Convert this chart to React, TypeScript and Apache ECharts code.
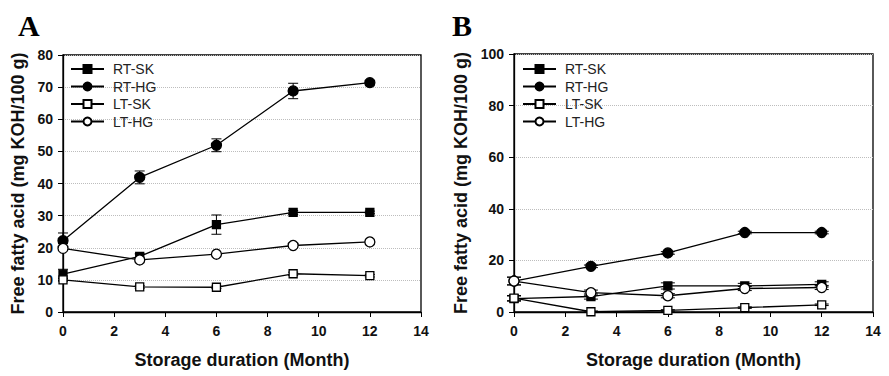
import React, { useEffect, useRef } from "react";
import * as echarts from "echarts";

const months = [0, 3, 6, 9, 12];
const seriesNames = ["RT-SK", "RT-HG", "LT-SK", "LT-HG"];

// Panel A
const aRtSk = [11.8, 17.3, 27.2, 31.0, 31.0];
const aRtSkErr = [1.5, 0.8, 3.0, 0.6, 0.4];
const aRtHg = [22.2, 41.9, 51.9, 68.8, 71.4];
const aRtHgErr = [2.4, 2.0, 2.0, 2.4, 0.5];
const aLtSk = [10.0, 7.8, 7.7, 11.9, 11.3];
const aLtSkErr = [0.4, 0.4, 0.4, 0.5, 0.4];
const aLtHg = [19.8, 16.2, 18.0, 20.7, 21.8];
const aLtHgErr = [0.4, 0.5, 0.4, 0.5, 0.4];

// Panel B
const bRtSk = [5.2, 6.0, 10.1, 10.1, 10.7];
const bRtSkErr = [1.0, 1.0, 1.2, 1.0, 1.0];
const bRtHg = [12.0, 17.7, 22.9, 30.8, 30.8];
const bRtHgErr = [1.5, 0.5, 0.5, 0.5, 0.5];
const bLtSk = [5.4, 0.1, 0.6, 1.7, 2.8];
const bLtSkErr = [1.0, 0.3, 0.3, 0.3, 0.3];
const bLtHg = [12.0, 7.5, 6.3, 9.1, 9.5];
const bLtHgErr = [1.5, 1.0, 0.8, 0.8, 0.8];

const panelLetters = ["A", "B"];
const xTitle = "Storage duration (Month)";
const yTitle = "Free fatty acid (mg KOH/100 g)";

const FONT = "Arial, 'Liberation Sans', Helvetica, sans-serif";

const markerStyles = [
  { symbol: "rect", size: 8, fill: "#000" },
  { symbol: "circle", size: 10, fill: "#000" },
  { symbol: "rect", size: 8, fill: "#fff" },
  { symbol: "circle", size: 10, fill: "#fff" },
];

function lineSeries(idx: number, values: number[], gi: number) {
  const m = markerStyles[idx];
  return {
    type: "line",
    name: seriesNames[idx],
    xAxisIndex: gi,
    yAxisIndex: gi,
    data: months.map((x, i) => [x, values[i]]),
    symbol: m.symbol,
    symbolSize: m.size,
    z: 5 + idx,
    lineStyle: { color: "#000", width: 1.3 },
    itemStyle: { color: m.fill, borderColor: "#000", borderWidth: 1.3 },
  };
}

function errSeries(values: number[], errs: number[], gi: number, capHalf: number) {
  return {
    type: "custom",
    xAxisIndex: gi,
    yAxisIndex: gi,
    z: 3,
    silent: true,
    data: months.map((x, i) => [x, values[i] - errs[i], values[i] + errs[i]]),
    encode: { x: 0, y: [1, 2] },
    renderItem: (params: any, api: any) => {
      const lo = api.coord([api.value(0), api.value(1)]);
      const hi = api.coord([api.value(0), api.value(2)]);
      const st = { stroke: "#000", lineWidth: 1 };
      return {
        type: "group",
        children: [
          { type: "line", shape: { x1: lo[0], y1: lo[1], x2: hi[0], y2: hi[1] }, style: st },
          { type: "line", shape: { x1: lo[0] - capHalf, y1: lo[1], x2: lo[0] + capHalf, y2: lo[1] }, style: st },
          { type: "line", shape: { x1: hi[0] - capHalf, y1: hi[1], x2: hi[0] + capHalf, y2: hi[1] }, style: st },
        ],
      };
    },
  };
}

export default function App() {
  const ref = useRef<HTMLDivElement>(null);
  useEffect(() => {
    if (!ref.current) return;
    const chart = echarts.init(ref.current, undefined, { renderer: "svg" });
    const grids = [
      { left: 63, top: 55, width: 358, height: 257 },
      { left: 514, top: 54, width: 359, height: 258 },
    ];
    const yMax = [80, 100];
    const yInt = [10, 20];
    const labelStyle = { color: "#111", fontSize: 14, fontWeight: "bold", fontFamily: FONT };
    const nameStyle = { color: "#111", fontSize: 18, fontWeight: "bold", fontFamily: FONT };
    const option: any = {
      animation: false,
      backgroundColor: "#fff",
      grid: grids.map((g) => ({ ...g, show: true, borderColor: "#000", borderWidth: 1.3, backgroundColor: "transparent" })),
      xAxis: grids.map((_, gi) => ({
        type: "value",
        gridIndex: gi,
        min: 0,
        max: 14,
        interval: 2,
        axisLine: { show: true, lineStyle: { color: "#000", width: 1.3 } },
        axisTick: { show: true, length: 5, lineStyle: { color: "#000", width: 1 } },
        axisLabel: { ...labelStyle, margin: 12 },
        splitLine: { show: false },
        name: xTitle,
        nameLocation: "middle",
        nameGap: 39,
        nameTextStyle: nameStyle,
      })),
      yAxis: grids.map((_, gi) => ({
        type: "value",
        gridIndex: gi,
        min: 0,
        max: yMax[gi],
        interval: yInt[gi],
        axisLine: { show: true, lineStyle: { color: "#000", width: 1.3 } },
        axisTick: { show: true, length: 5, lineStyle: { color: "#000", width: 1 } },
        axisLabel: { ...labelStyle, margin: 10 },
        splitLine: { show: true, lineStyle: { color: "#bdbdbd", type: "dotted", width: 1 } },
        name: yTitle,
        nameLocation: "middle",
        nameRotate: 90,
        nameGap: gi === 0 ? 36 : 44,
        nameTextStyle: nameStyle,
      })),
      legend: [
        { left: 70, top: 62 },
        { left: 522, top: 62 },
      ].map((p) => ({
        ...p,
        orient: "vertical",
        padding: 0,
        itemWidth: 33,
        itemHeight: 10,
        itemGap: 3.5,
        selectedMode: false,
        data: seriesNames,
        textStyle: { color: "#222", fontSize: 14, fontFamily: FONT, padding: [0, 0, 0, 4] },
      })),
      graphic: panelLetters.map((t, i) => ({
        type: "text",
        left: i === 0 ? 18 : 452,
        top: 10,
        style: { text: t, font: "bold 30px 'Liberation Serif', 'Times New Roman', serif", fill: "#000" },
      })),
      series: [
        errSeries(aRtSk, aRtSkErr, 0, 5),
        errSeries(aRtHg, aRtHgErr, 0, 5),
        errSeries(aLtSk, aLtSkErr, 0, 5),
        errSeries(aLtHg, aLtHgErr, 0, 5),
        lineSeries(0, aRtSk, 0),
        lineSeries(1, aRtHg, 0),
        lineSeries(2, aLtSk, 0),
        lineSeries(3, aLtHg, 0),
        errSeries(bRtSk, bRtSkErr, 1, 7),
        errSeries(bRtHg, bRtHgErr, 1, 7),
        errSeries(bLtSk, bLtSkErr, 1, 7),
        errSeries(bLtHg, bLtHgErr, 1, 7),
        lineSeries(0, bRtSk, 1),
        lineSeries(1, bRtHg, 1),
        lineSeries(2, bLtSk, 1),
        lineSeries(3, bLtHg, 1),
      ],
    };
    chart.setOption(option);
    return () => chart.dispose();
  }, []);
  return (
    <div
      ref={ref}
      style={{ position: "absolute", left: 0, top: 0, width: 889, height: 376, background: "#fff" }}
    />
  );
}
